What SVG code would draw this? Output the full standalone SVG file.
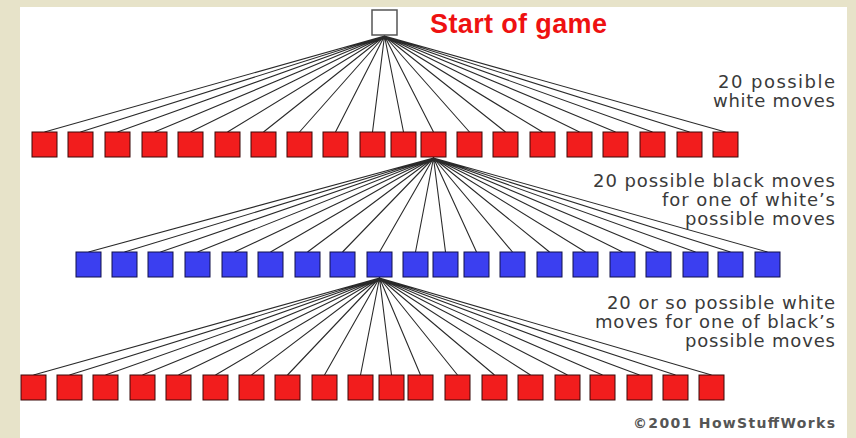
<svg xmlns="http://www.w3.org/2000/svg" width="856" height="438" viewBox="0 0 856 438">
<style>
.bg{fill:#e7e3c9}
.panel{fill:#ffffff}
.root{fill:#ffffff;stroke:#555555;stroke-width:1.5}
.r{fill:#f21d1d;stroke:#3a0808;stroke-width:1}
.b{fill:#3b3ff0;stroke:#10104a;stroke-width:1}
.conn path{fill:none;stroke:#2a2a2a;stroke-width:1.1}
.lbl{font-family:"DejaVu Sans","Liberation Sans",sans-serif;font-size:18px;fill:#3a3a3a;text-anchor:end}
.title{font-family:"Liberation Sans",Arial,sans-serif;font-weight:bold;font-size:27px;fill:#ee1111}
.copy{font-family:"DejaVu Sans","Liberation Sans",sans-serif;font-weight:bold;font-size:14px;fill:#555555;text-anchor:end}
</style>
<rect class="bg" x="0" y="0" width="856" height="438"/>
<rect class="panel" x="20" y="7" width="827" height="431"/>

<g id="connectors" class="conn">
<path d="M384.5 36 L44.5 132 M384.5 36 L80.5 132 M384.5 36 L117.5 132 M384.5 36 L154.5 132 M384.5 36 L190.5 132 M384.5 36 L227.5 132 M384.5 36 L263.5 132 M384.5 36 L299.5 132 M384.5 36 L335.5 132 M384.5 36 L372.5 132 M384.5 36 L403.5 132 M384.5 36 L433.5 132 M384.5 36 L469.5 132 M384.5 36 L505.5 132 M384.5 36 L542.5 132 M384.5 36 L579.5 132 M384.5 36 L615.5 132 M384.5 36 L652.5 132 M384.5 36 L689.5 132 M384.5 36 L725.5 132"/>
<path d="M433.5 158 L88.5 252 M433.5 158 L124.5 252 M433.5 158 L160.5 252 M433.5 158 L197.5 252 M433.5 158 L234.5 252 M433.5 158 L270.5 252 M433.5 158 L307.5 252 M433.5 158 L342.5 252 M433.5 158 L379.5 252 M433.5 158 L415.5 252 M433.5 158 L445.5 252 M433.5 158 L476.5 252 M433.5 158 L512.5 252 M433.5 158 L549.5 252 M433.5 158 L585.5 252 M433.5 158 L622.5 252 M433.5 158 L658.5 252 M433.5 158 L695.5 252 M433.5 158 L730.5 252 M433.5 158 L767.5 252"/>
<path d="M379.5 278 L33.5 375 M379.5 278 L69.5 375 M379.5 278 L105.5 375 M379.5 278 L142.5 375 M379.5 278 L178.5 375 M379.5 278 L215.5 375 M379.5 278 L251.5 375 M379.5 278 L287.5 375 M379.5 278 L324.5 375 M379.5 278 L360.5 375 M379.5 278 L391.5 375 M379.5 278 L420.5 375 M379.5 278 L457.5 375 M379.5 278 L494.5 375 M379.5 278 L530.5 375 M379.5 278 L567.5 375 M379.5 278 L602.5 375 M379.5 278 L639.5 375 M379.5 278 L675.5 375 M379.5 278 L711.5 375"/>
</g>

<g id="start"><rect class="root" x="372" y="10" width="25" height="25"/></g>

<g id="white-moves">
<rect class="r" x="32" y="132" width="25" height="25"/>
<rect class="r" x="68" y="132" width="25" height="25"/>
<rect class="r" x="105" y="132" width="25" height="25"/>
<rect class="r" x="142" y="132" width="25" height="25"/>
<rect class="r" x="178" y="132" width="25" height="25"/>
<rect class="r" x="215" y="132" width="25" height="25"/>
<rect class="r" x="251" y="132" width="25" height="25"/>
<rect class="r" x="287" y="132" width="25" height="25"/>
<rect class="r" x="323" y="132" width="25" height="25"/>
<rect class="r" x="360" y="132" width="25" height="25"/>
<rect class="r" x="391" y="132" width="25" height="25"/>
<rect class="r" x="421" y="132" width="25" height="25"/>
<rect class="r" x="457" y="132" width="25" height="25"/>
<rect class="r" x="493" y="132" width="25" height="25"/>
<rect class="r" x="530" y="132" width="25" height="25"/>
<rect class="r" x="567" y="132" width="25" height="25"/>
<rect class="r" x="603" y="132" width="25" height="25"/>
<rect class="r" x="640" y="132" width="25" height="25"/>
<rect class="r" x="677" y="132" width="25" height="25"/>
<rect class="r" x="713" y="132" width="25" height="25"/>
</g>

<g id="black-moves">
<rect class="b" x="76" y="252" width="25" height="25"/>
<rect class="b" x="112" y="252" width="25" height="25"/>
<rect class="b" x="148" y="252" width="25" height="25"/>
<rect class="b" x="185" y="252" width="25" height="25"/>
<rect class="b" x="222" y="252" width="25" height="25"/>
<rect class="b" x="258" y="252" width="25" height="25"/>
<rect class="b" x="295" y="252" width="25" height="25"/>
<rect class="b" x="330" y="252" width="25" height="25"/>
<rect class="b" x="367" y="252" width="25" height="25"/>
<rect class="b" x="403" y="252" width="25" height="25"/>
<rect class="b" x="433" y="252" width="25" height="25"/>
<rect class="b" x="464" y="252" width="25" height="25"/>
<rect class="b" x="500" y="252" width="25" height="25"/>
<rect class="b" x="537" y="252" width="25" height="25"/>
<rect class="b" x="573" y="252" width="25" height="25"/>
<rect class="b" x="610" y="252" width="25" height="25"/>
<rect class="b" x="646" y="252" width="25" height="25"/>
<rect class="b" x="683" y="252" width="25" height="25"/>
<rect class="b" x="718" y="252" width="25" height="25"/>
<rect class="b" x="755" y="252" width="25" height="25"/>
</g>

<g id="white-replies">
<rect class="r" x="21" y="375" width="25" height="25"/>
<rect class="r" x="57" y="375" width="25" height="25"/>
<rect class="r" x="93" y="375" width="25" height="25"/>
<rect class="r" x="130" y="375" width="25" height="25"/>
<rect class="r" x="166" y="375" width="25" height="25"/>
<rect class="r" x="203" y="375" width="25" height="25"/>
<rect class="r" x="239" y="375" width="25" height="25"/>
<rect class="r" x="275" y="375" width="25" height="25"/>
<rect class="r" x="312" y="375" width="25" height="25"/>
<rect class="r" x="348" y="375" width="25" height="25"/>
<rect class="r" x="379" y="375" width="25" height="25"/>
<rect class="r" x="408" y="375" width="25" height="25"/>
<rect class="r" x="445" y="375" width="25" height="25"/>
<rect class="r" x="482" y="375" width="25" height="25"/>
<rect class="r" x="518" y="375" width="25" height="25"/>
<rect class="r" x="555" y="375" width="25" height="25"/>
<rect class="r" x="590" y="375" width="25" height="25"/>
<rect class="r" x="627" y="375" width="25" height="25"/>
<rect class="r" x="663" y="375" width="25" height="25"/>
<rect class="r" x="699" y="375" width="25" height="25"/>
</g>

<g id="labels">
<text class="title" x="430" y="33" textLength="177" lengthAdjust="spacing">Start of game</text>
<text class="lbl" x="835" y="88" textLength="117" lengthAdjust="spacing">20 possible</text>
<text class="lbl" x="835" y="107" textLength="122" lengthAdjust="spacing">white moves</text>
<text class="lbl" x="835" y="187" textLength="242" lengthAdjust="spacing">20 possible black moves</text>
<text class="lbl" x="835" y="206" textLength="173" lengthAdjust="spacing">for one of white’s</text>
<text class="lbl" x="835" y="225" textLength="150" lengthAdjust="spacing">possible moves</text>
<text class="lbl" x="835" y="309" textLength="228" lengthAdjust="spacing">20 or so possible white</text>
<text class="lbl" x="835" y="328" textLength="240" lengthAdjust="spacing">moves for one of black’s</text>
<text class="lbl" x="835" y="347" textLength="150" lengthAdjust="spacing">possible moves</text>
<text class="copy" x="835" y="428" textLength="202" lengthAdjust="spacing">©2001 HowStuffWorks</text>
</g>
</svg>
